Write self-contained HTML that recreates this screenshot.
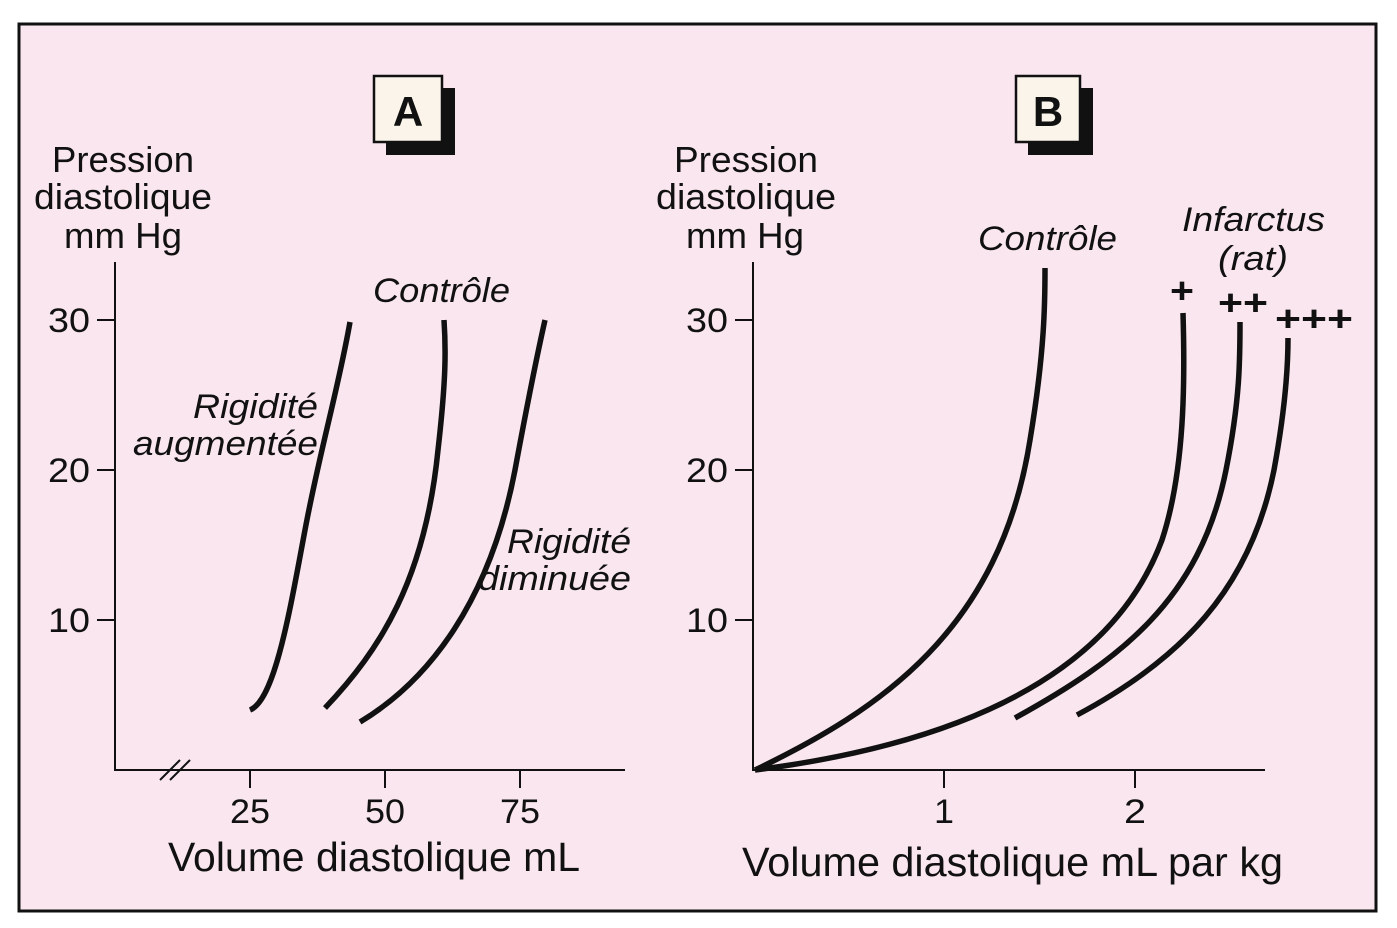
<!DOCTYPE html>
<html><head><meta charset="utf-8"><style>
html,body{margin:0;padding:0;background:#fff;}
svg{display:block;}
text{font-family:"Liberation Sans",sans-serif;fill:#111;}
.it{font-style:italic;}
</style></head><body>
<svg width="1397" height="928" viewBox="0 0 1397 928" xmlns="http://www.w3.org/2000/svg">
<rect x="19" y="24" width="1357" height="887" fill="#f9e6ee" stroke="#111" stroke-width="3"/>
<rect x="386" y="88" width="69" height="67" fill="#111"/>
<rect x="374" y="76" width="68" height="66" fill="#fbf4ea" stroke="#111" stroke-width="2.5"/>
<text x="408" y="126" font-size="42" font-weight="bold" text-anchor="middle">A</text>
<rect x="1028" y="88" width="65" height="67" fill="#111"/>
<rect x="1016" y="76" width="64" height="66" fill="#fbf4ea" stroke="#111" stroke-width="2.5"/>
<text x="1048" y="126" font-size="42" font-weight="bold" text-anchor="middle">B</text>
<g stroke="#111" stroke-width="2" fill="none">
<path d="M115,262 V770 H625"/>
<path d="M97,320H115M97,470H115M97,620H115"/>
<path d="M250,770v18M385,770v18M520,770v18"/>
<path d="M160,780L180,760M170,780L190,760"/>
</g>
<g font-size="34">
<text x="48" y="332" textLength="42" lengthAdjust="spacingAndGlyphs">30</text>
<text x="48" y="482" textLength="42" lengthAdjust="spacingAndGlyphs">20</text>
<text x="48" y="632" textLength="42" lengthAdjust="spacingAndGlyphs">10</text>
<text x="230" y="823" textLength="40" lengthAdjust="spacingAndGlyphs">25</text>
<text x="365" y="823" textLength="40" lengthAdjust="spacingAndGlyphs">50</text>
<text x="500" y="823" textLength="40" lengthAdjust="spacingAndGlyphs">75</text>
<text x="686" y="332" textLength="42" lengthAdjust="spacingAndGlyphs">30</text>
<text x="686" y="482" textLength="42" lengthAdjust="spacingAndGlyphs">20</text>
<text x="686" y="632" textLength="42" lengthAdjust="spacingAndGlyphs">10</text>
<text x="934" y="823" textLength="20" lengthAdjust="spacingAndGlyphs">1</text>
<text x="1124" y="823" textLength="22" lengthAdjust="spacingAndGlyphs">2</text>
</g>
<g font-size="36">
<text x="52" y="172" textLength="142" lengthAdjust="spacingAndGlyphs">Pression</text>
<text x="34" y="209" textLength="178" lengthAdjust="spacingAndGlyphs">diastolique</text>
<text x="64" y="248" textLength="118" lengthAdjust="spacingAndGlyphs">mm Hg</text>
<text x="674" y="172" textLength="144" lengthAdjust="spacingAndGlyphs">Pression</text>
<text x="656" y="209" textLength="180" lengthAdjust="spacingAndGlyphs">diastolique</text>
<text x="686" y="248" textLength="118" lengthAdjust="spacingAndGlyphs">mm Hg</text>
</g>
<text x="168" y="871" font-size="41" textLength="412" lengthAdjust="spacingAndGlyphs">Volume diastolique mL</text>
<text x="742" y="876" font-size="41" textLength="541" lengthAdjust="spacingAndGlyphs">Volume diastolique mL par kg</text>
<g font-size="34">
<text x="373" y="302" textLength="137" lengthAdjust="spacingAndGlyphs" class="it">Contrôle</text>
<text x="193" y="418" textLength="125" lengthAdjust="spacingAndGlyphs" class="it">Rigidité</text>
<text x="133" y="455" textLength="185" lengthAdjust="spacingAndGlyphs" class="it">augmentée</text>
<text x="507" y="553" textLength="124" lengthAdjust="spacingAndGlyphs" class="it">Rigidité</text>
<text x="478" y="590" textLength="153" lengthAdjust="spacingAndGlyphs" class="it">diminuée</text>
<text x="978" y="250" textLength="139" lengthAdjust="spacingAndGlyphs" class="it">Contrôle</text>
<text x="1182" y="231" textLength="143" lengthAdjust="spacingAndGlyphs" class="it">Infarctus</text>
<text x="1218" y="270" textLength="70" lengthAdjust="spacingAndGlyphs" class="it">(rat)</text>
</g>
<g font-size="36" font-weight="bold">
<text x="1170" y="303" textLength="24" lengthAdjust="spacingAndGlyphs">+</text>
<text x="1218" y="315" textLength="50" lengthAdjust="spacingAndGlyphs">++</text>
<text x="1275" y="331" textLength="78" lengthAdjust="spacingAndGlyphs">+++</text>
</g>
<g stroke="#111" stroke-width="5.5" fill="none">
<path d="M250,710 C275,700 290,610 305,530 S338,390 350,322"/>
<path d="M325,708 C380,650 425,580 438,450 C446,380 446,350 444,320"/>
<path d="M360,722 C430,680 490,600 515,470 C528,400 536,360 545,320"/>
</g>
<g stroke="#111" stroke-width="2" fill="none">
<path d="M753,262 V770 H1265"/>
<path d="M735,320H753M735,470H753M735,620H753"/>
<path d="M944,770v18M1135,770v18"/>
</g>
<g stroke="#111" stroke-width="5.5" fill="none">
<path d="M755,770 C880,710 1000,630 1030,440 C1045,350 1045,300 1045,268"/>
<path d="M755,770 C950,745 1110,680 1162,540 C1185,470 1185,380 1183,313"/>
<path d="M1015,718 C1120,660 1200,600 1226,470 C1240,400 1240,360 1240,322"/>
<path d="M1077,715 C1180,660 1250,590 1274,470 C1285,410 1288,370 1288,338"/>
</g>
</svg>
</body></html>
